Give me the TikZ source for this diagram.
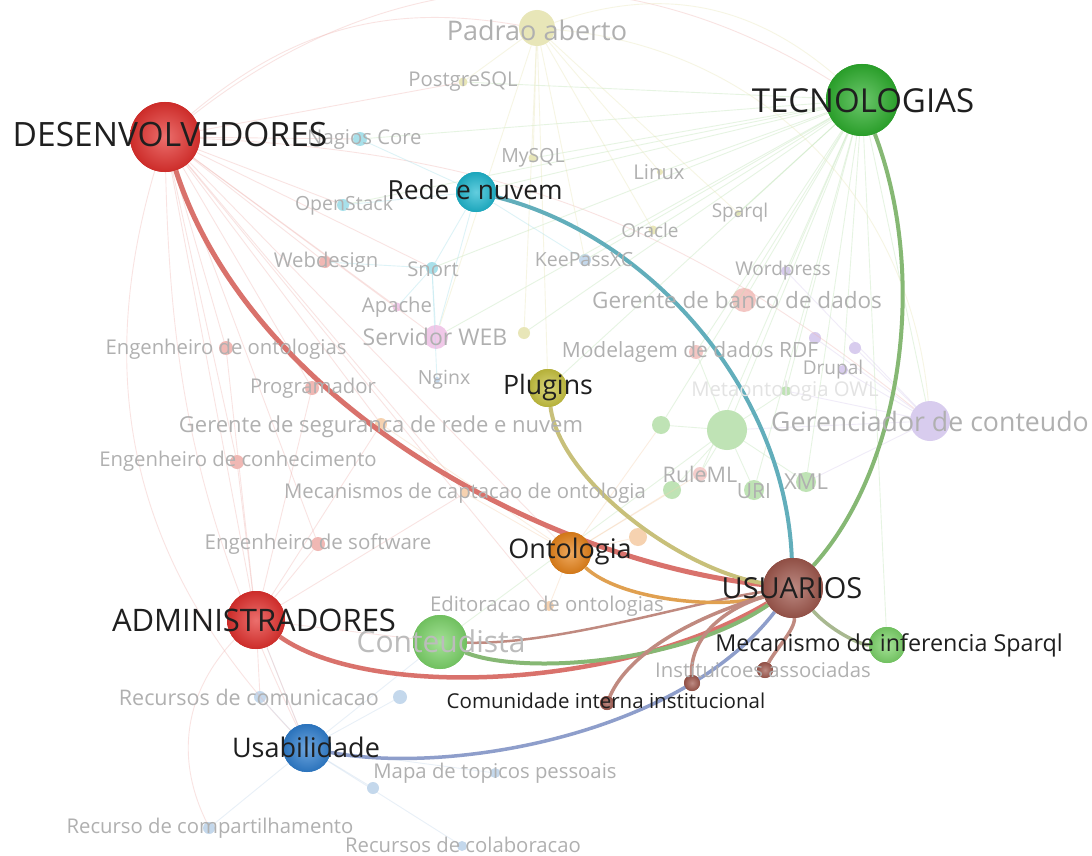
\documentclass[tikz,border=0pt]{standalone}
\usepackage{fontspec}
\setmainfont{Open Sans}
\definecolor{cRed}{HTML}{E3312E}
\definecolor{cGreen}{HTML}{2EAF2E}
\definecolor{cCyan}{HTML}{1FB8D0}
\definecolor{cYellow}{HTML}{C9C440}
\definecolor{cOrange}{HTML}{E8841A}
\definecolor{cBrown}{HTML}{A0584D}
\definecolor{cLGreen}{HTML}{7DD56A}
\definecolor{cBlue}{HTML}{2F7FD0}
\definecolor{eRed}{HTML}{D9726C}
\definecolor{eCyan}{HTML}{62AEBB}
\definecolor{eGreen}{HTML}{86B874}
\definecolor{eYellow}{HTML}{C8C07A}
\definecolor{eOrange}{HTML}{E0A050}
\definecolor{eBrown}{HTML}{C08A80}
\definecolor{eBlue}{HTML}{8E9ECB}
\definecolor{eSpq}{HTML}{A8B890}
\definecolor{fText}{HTML}{B0B0B0}
\definecolor{fRed}{HTML}{F0B8B4}
\definecolor{fGreen}{HTML}{BFE3B5}
\definecolor{fYel}{HTML}{E8E6B8}
\definecolor{fCyan}{HTML}{A8E0EA}
\definecolor{fBlue}{HTML}{C4D8EC}
\definecolor{fPur}{HTML}{D8CCEE}
\definecolor{fPink}{HTML}{F0C8E8}
\definecolor{fOra}{HTML}{F6D2B0}
\newcommand{\fsz}[1]{\fontsize{#1}{#1}\selectfont}
\tikzset{
  hub/.style={circle, inner sep=0pt, minimum size=#1, shading=radial},
  fdot/.style={circle, inner sep=0pt, minimum size=#1},
  big/.style={text=black!88, font=\fsz{33}, inner sep=0pt},
  mid/.style={text=black!88, font=\fsz{26.7}, inner sep=0pt},
  sml/.style={text=black!88, font=\fsz{20.5}, inner sep=0pt},
  flab/.style={text=fText, font=\fsz{20.3}, inner sep=0pt},
  fe/.style={draw=#1, line width=0.9pt, opacity=0.38},
}
\begin{document}
\begin{tikzpicture}[x=1pt,y=-1pt]
\useasboundingbox[fill=white] (0,0) rectangle (1092,856);
% ---------- faint nodes (dots) ----------
\node[fdot=36pt, fill=fYel] (pad) at (537,28) {};
\node[fdot=9pt, fill=fYel] (pos) at (463,82) {};
\node[fdot=14pt, fill=fCyan] (nag) at (360,139) {};
\node[fdot=9pt, fill=fYel] (mys) at (533,158) {};
\node[fdot=6pt, fill=fYel] (lin) at (660,172) {};
\node[fdot=12pt, fill=fCyan] (ops) at (343,205) {};
\node[fdot=9pt, fill=fYel] (ora) at (653,230) {};
\node[fdot=6pt, fill=fYel] (spq) at (738,213) {};
\node[fdot=12pt, fill=fRed] (web) at (325,262) {};
\node[fdot=12pt, fill=fCyan] (sno) at (432,268) {};
\node[fdot=12pt, fill=fBlue] (kee) at (585,260) {};
\node[fdot=10pt, fill=fPur] (wor) at (786,271) {};
\node[fdot=24pt, fill=fRed!80] (gbd) at (744,300) {};
\node[fdot=9pt, fill=fPink] (apa) at (397,307) {};
\node[fdot=24pt, fill=fPink] (ser) at (436,337) {};
\node[fdot=12pt, fill=fYel] (yd) at (524,333) {};
\node[fdot=14pt, fill=fRed] (eon) at (226,348) {};
\node[fdot=14pt, fill=fRed!80] (mod) at (696,352) {};
\node[fdot=12pt, fill=fPur] (p1) at (815,338) {};
\node[fdot=12pt, fill=fPur] (p2) at (855,348) {};
\node[fdot=10pt, fill=fPur] (dru) at (843,370) {};
\node[fdot=14pt, fill=fRed] (pro) at (312,388) {};
\node[fdot=6pt, fill=fBlue] (ngi) at (437,380) {};
\node[fdot=10pt, fill=fGreen] (owl) at (786,391) {};
\node[fdot=12pt, fill=fOra] (gsr) at (381,424) {};
\node[fdot=18pt, fill=fGreen] (g1) at (661,425) {};
\node[fdot=40pt, fill=fGreen] (g2) at (727,430) {};
\node[fdot=40pt, fill=fPur] (gco) at (930,421) {};
\node[fdot=14pt, fill=fRed] (eco) at (237,462) {};
\node[fdot=14pt, fill=fRed!70] (rul) at (700,474) {};
\node[fdot=20pt, fill=fGreen] (uri) at (754,490) {};
\node[fdot=20pt, fill=fGreen] (xml) at (806,482) {};
\node[fdot=18pt, fill=fGreen] (g3) at (672,490) {};
\node[fdot=10pt, fill=fOra] (mca) at (465,493) {};
\node[fdot=14pt, fill=fRed] (esw) at (318,544) {};
\node[fdot=18pt, fill=fOra] (od) at (638,537) {};
\node[fdot=10pt, fill=fOra] (edi) at (549,606) {};
\node[fdot=12pt, fill=fBlue] (rcm) at (260,697) {};
\node[fdot=14pt, fill=fBlue] (b1) at (400,697) {};
\node[fdot=10pt, fill=fBlue] (map) at (495,773) {};
\node[fdot=12pt, fill=fBlue] (b2) at (373,788) {};
\node[fdot=12pt, fill=fBlue] (rcp) at (209,828) {};
\node[fdot=10pt, fill=fBlue] (rcl) at (462,846) {};
% ---------- main nodes (names for connectors) ----------
\node[hub=70pt, inner color=cRed!70!white, outer color=cRed!90!black] (des) at (165,137) {};
\node[hub=72pt, inner color=cGreen!70!white, outer color=cGreen!85!black] (tec) at (862,100) {};
\node[hub=58pt, inner color=cRed!70!white, outer color=cRed!90!black] (adm) at (256,620) {};
\node[hub=60pt, inner color=cBrown!70!white, outer color=cBrown!90!black] (usu) at (793,588) {};
\node[hub=40pt, inner color=cCyan!70!white, outer color=cCyan!90!black] (red) at (476,192) {};
\node[hub=38pt, inner color=cYellow!70!white, outer color=cYellow!90!black] (plu) at (548,388) {};
\node[hub=42pt, inner color=cOrange!70!white, outer color=cOrange!90!black] (ont) at (570,553) {};
\node[hub=54pt, inner color=cLGreen!70!white, outer color=cLGreen!90!black] (con) at (440,642) {};
\node[hub=48pt, inner color=cBlue!70!white, outer color=cBlue!90!black] (usa) at (307,748) {};
\node[hub=36pt, inner color=cLGreen!70!white, outer color=cLGreen!90!black] (mec) at (887,645) {};
\node[hub=16pt, inner color=cBrown!70!white, outer color=cBrown!90!black] (ins) at (765,670) {};
\node[hub=16pt, inner color=cBrown!70!white, outer color=cBrown!90!black] (bd) at (692,683) {};
\node[hub=14pt, inner color=cBrown!70!white, outer color=cBrown!90!black] (com) at (607,703) {};
% ---------- faint edges ----------
\foreach \t in {nag,ops,web,sno,apa,ser,eon,pro,gsr,eco,mca,esw,adm,edi,ont,pos}
  \draw[fe=fRed] (des) -- (\t);
\draw[fe=fRed] (des) to[bend right=12] (usa);
\draw[fe=fRed] (des) to[bend right=30] (usa);
\draw[fe=fRed] (des) to[bend left=35] (tec);
\draw[fe=fRed] (des) to[bend left=25] (pad);
\draw[fe=fRed] (des) to[bend left=18] (gco);
\foreach \t in {lin,ora,mys,spq,wor,red,kee,gbd,mod,dru,owl,g1,g2,uri,xml,rul,pos,ops,ser,yd,plu,nag,sno,gco,mec}
  \draw[fe=fGreen] (tec) -- (\t);
\foreach \t in {pos,mys,lin,ora,spq,yd,plu,kee,ser}
  \draw[fe=fYel] (pad) -- (\t);
\draw[fe=fYel] (pad) to[bend left=40] (gco);
\draw[fe=fYel] (pad) to[bend left=30] (tec);
\foreach \t in {wor,dru,p1,p2,g2,owl,xml}
  \draw[fe=fPur] (gco) -- (\t);
\foreach \t in {g1,g3,uri,xml,rul,owl,con,mod}
  \draw[fe=fGreen] (g2) -- (\t);
\foreach \t in {rcm,b1,map,b2,rcp,rcl,adm,con}
  \draw[fe=fBlue] (usa) -- (\t);
\foreach \t in {esw,eco,eon,pro,rcm,usa,con,mca,gsr}
  \draw[fe=fRed] (adm) -- (\t);
\draw[fe=fRed] (adm) to[bend right=35] (rcp);
\foreach \t in {g1,g3,od,rul,mca,edi,gsr}
  \draw[fe=fOra] (ont) -- (\t);
\foreach \t in {red,ngi,apa,ser,web}
  \draw[fe=fCyan] (sno) -- (\t);
\draw[fe=fCyan] (red) -- (ops);
\draw[fe=fCyan] (red) -- (nag);
\draw[fe=fCyan] (red) -- (kee);
\draw[fe=fCyan] (red) -- (ser);
% ---------- strong edges ----------
\draw[draw=eRed, line width=5pt] (des) .. controls (250,400) and (540,560) .. (usu);
\draw[draw=eRed, line width=4.5pt] (adm) .. controls (370,700) and (620,690) .. (usu);
\draw[draw=eBrown, line width=2.5pt] (usu) .. controls (700,600) and (560,645) .. (con);
\draw[draw=eGreen, line width=4pt] (con) .. controls (520,675) and (680,665) .. (usu);
\draw[draw=eBlue, line width=3.5pt] (usa) .. controls (450,775) and (680,735) .. (usu);
\draw[draw=eCyan, line width=4pt] (red) .. controls (650,235) and (785,390) .. (usu);
\draw[draw=eGreen, line width=4pt] (tec) .. controls (930,280) and (900,470) .. (usu);
\draw[draw=eYellow, line width=4pt] (plu) .. controls (560,480) and (680,570) .. (usu);
\draw[draw=eOrange, line width=3.5pt] (ont) .. controls (620,600) and (720,610) .. (usu);
\draw[draw=eSpq, line width=3.5pt] (usu) .. controls (830,630) and (860,645) .. (mec);
\draw[draw=eBrown, line width=3.5pt] (usu) .. controls (700,615) and (630,650) .. (com);
\draw[draw=eBrown, line width=3.5pt] (usu) .. controls (720,610) and (690,640) .. (bd);
\draw[draw=eBrown, line width=3.5pt] (usu) .. controls (795,630) and (775,650) .. (ins);
% redraw hubs on top of edges
\foreach \n/\c/\s/\x/\y in {des/cRed/70/165/137, tec/cGreen/72/862/100, adm/cRed/58/256/620, usu/cBrown/60/793/588, red/cCyan/40/476/192, plu/cYellow/38/548/388, ont/cOrange/42/570/553, con/cLGreen/54/440/642, usa/cBlue/48/307/748, mec/cLGreen/36/887/645, ins/cBrown/16/765/670, bd/cBrown/16/692/683, com/cBrown/14/607/703}
  \shade[inner color=\c!70!white, outer color=\c!90!black] (\x,\y) circle (\s pt/2);
% ---------- faint labels ----------
\node[flab, font=\fsz{27}] (padl) at (537,30) {Padrao aberto};
\node[flab] (posl) at (463,82) {PostgreSQL};
\node[flab, anchor=west] (nagl) at (307,139) {Nagios Core};
\node[flab, font=\fsz{19.5}] (mysl) at (533,158) {MySQL};
\node[flab] (linl) at (659,172) {Linux};
\node[flab, font=\fsz{19.5}] (opsl) at (344,205) {OpenStack};
\node[flab, font=\fsz{19}] (oral) at (650,230) {Oracle};
\node[flab, font=\fsz{19}] (spql) at (740,213) {Sparql};
\node[flab] (webl) at (326,262) {Webdesign};
\node[flab] (snol) at (433,269) {Snort};
\node[flab, font=\fsz{19.5}] (keel) at (584,260) {KeePassXC};
\node[flab, font=\fsz{19}] (worl) at (783,271) {Wordpress};
\node[flab, font=\fsz{22.5}] (gbdl) at (737,300) {Gerente de banco de dados};
\node[flab] (apal) at (397,307) {Apache};
\node[flab, font=\fsz{23}] (serl) at (435,337) {Servidor WEB};
\node[flab] (eonl) at (226,349) {Engenheiro de ontologias};
\node[flab, font=\fsz{21}] (modl) at (690,352) {Modelagem de dados RDF};
\node[flab, font=\fsz{19}] (drul) at (833,370) {Drupal};
\node[flab] (prol) at (313,388) {Programador};
\node[flab, font=\fsz{19.5}] (ngil) at (444,380) {Nginx};
\node[flab, text=fText!35] (owll) at (785,391) {Metaontologia OWL};
\node[flab, font=\fsz{22}] (gsrl) at (381,427) {Gerente de seguranca de rede e nuvem};
\node[flab, font=\fsz{26.7}] (gcol) at (930,421) {Gerenciador de conteudo};
\node[flab] (ecol) at (238,461) {Engenheiro de conhecimento};
\node[flab, font=\fsz{21.5}] (rull) at (700,474) {RuleML};
\node[flab, font=\fsz{21}] (uril) at (754,491) {URI};
\node[flab, font=\fsz{22}] (xmll) at (806,482) {XML};
\node[flab] (mcal) at (465,493) {Mecanismos de captacao de ontologia};
\node[flab, font=\fsz{20.5}] (eswl) at (318,544) {Engenheiro de software};
\node[flab] (edil) at (547,606) {Editoracao de ontologias};
\node[flab, text=fText!85, font=\fsz{30}] (conl) at (441,641) {Conteudista};
\node[flab] (insl) at (763,670) {Instituicoes associadas};
\node[flab, font=\fsz{21.5}, anchor=east] (rcml) at (379,697) {Recursos de comunicacao};
\node[flab] (mapl) at (495,773) {Mapa de topicos pessoais};
\node[flab] (rcpl) at (210,828) {Recurso de compartilhamento};
\node[flab] (rcll) at (463,845) {Recursos de colaboracao};
% ---------- main labels ----------
\node[big, font=\fsz{33.5}] (desl) at (170,135) {DESENVOLVEDORES};
\node[big] (tecl) at (863,101) {TECNOLOGIAS};
\node[big, font=\fsz{31}] (adml) at (254,620) {ADMINISTRADORES};
\node[big, font=\fsz{29}] (usul) at (792,588) {USUARIOS};
\node[mid, font=\fsz{26.3}] (redl) at (475,190) {Rede e nuvem};
\node[mid] (plul) at (548,388) {Plugins};
\node[mid, font=\fsz{27}] (ontl) at (570,551) {Ontologia};
\node[mid, font=\fsz{27}] (usal) at (306,747) {Usabilidade};
\node[mid, font=\fsz{23.3}] (mecl) at (889,645) {Mecanismo de inferencia Sparql};
\node[sml] (coml) at (606,701) {Comunidade interna institucional};
\end{tikzpicture}
\end{document}
